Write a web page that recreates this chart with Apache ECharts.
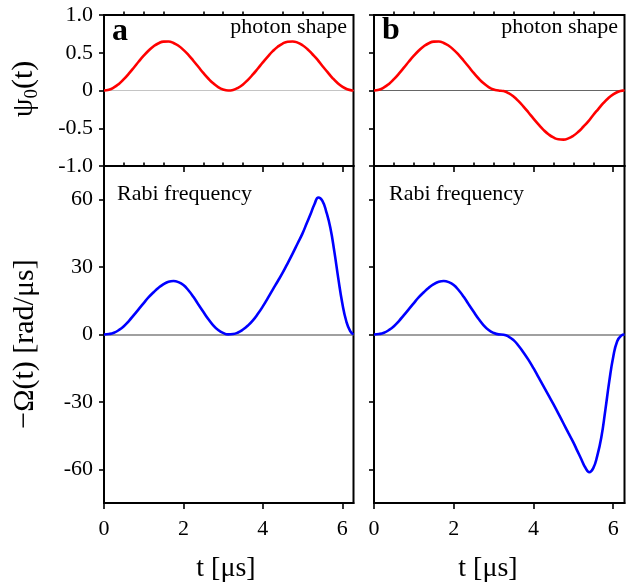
<!DOCTYPE html>
<html>
<head>
<meta charset="utf-8">
<script src="https://cdn.jsdelivr.net/npm/echarts@6/dist/echarts.min.js"></script>
<style>
html,body{margin:0;padding:0;background:#fff;}
#chart{width:635px;height:585px;}
</style>
</head>
<body>
<div id="chart"></div>
<script>
// ---- data ----
const tPsi = [0,0.125,0.25,0.375,0.5,0.625,0.75,0.875,1.0,1.125,1.25,1.375,1.5,1.625,1.75,1.875,2.0,2.125,2.25,2.375,2.5,2.625,2.75,2.875,3.0,3.125,3.25,3.375,3.5,3.625,3.75,3.875,4.0,4.125,4.25,4.375,4.5,4.625,4.75,4.875,5.0,5.125,5.25,5.375,5.5,5.625,5.75,5.875,6.0,6.125,6.25,6.283];
const psiA = [0,0.010,0.040,0.087,0.150,0.223,0.302,0.384,0.461,0.530,0.586,0.626,0.648,0.649,0.630,0.592,0.538,0.471,0.394,0.314,0.233,0.159,0.095,0.045,0.013,0,0.008,0.035,0.080,0.141,0.213,0.292,0.373,0.450,0.521,0.579,0.622,0.646,0.650,0.634,0.599,0.547,0.480,0.408,0.324,0.246,0.168,0.102,0.051,0.016,0.001,0];
const psiB = [0,0.010,0.040,0.087,0.150,0.223,0.302,0.384,0.461,0.530,0.586,0.626,0.648,0.649,0.630,0.592,0.538,0.471,0.394,0.314,0.233,0.159,0.095,0.045,0.013,0,-0.008,-0.035,-0.080,-0.141,-0.213,-0.292,-0.373,-0.450,-0.521,-0.579,-0.622,-0.646,-0.650,-0.634,-0.599,-0.547,-0.480,-0.408,-0.324,-0.246,-0.168,-0.102,-0.051,-0.016,-0.001,0];

const tRabi = [0,0.125,0.25,0.375,0.5,0.625,0.75,0.875,1.0,1.125,1.25,1.375,1.5,1.625,1.75,1.875,2.0,2.125,2.25,2.375,2.5,2.625,2.75,2.875,3.0,3.125,3.25,3.375,3.5,3.625,3.75,3.875,4.0,4.125,4.25,4.375,4.5,4.625,4.75,4.875,5.0,5.1,5.2,5.3,5.4,5.5,5.6,5.7,5.8,5.9,6.0,6.1,6.2,6.283];
const rabiA = [0,0.2,0.8,2.0,3.7,6.0,8.6,11.3,14.0,16.6,18.8,20.8,22.4,23.5,23.8,23.3,22.0,19.7,16.8,13.4,10.1,6.9,4.1,2.0,0.7,0.05,0.2,0.9,2.2,4.0,6.3,9.2,12.5,16.2,20.0,23.7,27.5,31.7,36.0,40.5,45.0,49.3,53.5,58.0,61.0,59.5,54.5,47.5,37,25,14,6,1.5,0];
const rabiB = [0,0.2,0.8,2.0,3.7,6.0,8.6,11.3,14.0,16.6,18.8,20.8,22.4,23.5,23.8,23.3,22.0,19.7,16.8,13.4,10.1,6.9,4.1,2.0,0.7,0.05,-0.1,-0.9,-2.5,-5.0,-8,-11.3,-15,-19,-23,-27,-31,-35.2,-39.5,-43.8,-48,-51.8,-55.5,-59.2,-61.3,-59.5,-54,-46,-34,-21,-10,-3,-0.5,0];

const xMajorTicks = [0,2,4,6];
const xMinorTicks = [0.5,1,1.5,2.5,3,3.5,4.5,5,5.5];
const yTicksTop = [-1,-0.5,0,0.5,1];
const yTicksBottom = [-60,-30,0,30,60];
const xMax = 6.2832;

// ---- chart ----
const FONT = 'Liberation Serif';
const chart = echarts.init(document.getElementById('chart'), null, {renderer:'canvas'});

const grids = [
  {left:104, top:15, width:249.5, height:151},
  {left:374, top:15, width:250.5, height:151},
  {left:104, top:166, width:249.5, height:337},
  {left:374, top:166, width:250.5, height:337}
].map(g => Object.assign({show:true, borderColor:'#000', borderWidth:2, backgroundColor:'transparent'}, g));

const xAxes = [];
for (let i = 0; i < 4; i++) {
  const bottom = i >= 2;
  xAxes.push({
    type:'value', gridIndex:i, min:0, max:xMax,
    axisLine:{show:true, onZero:false, lineStyle:{color:'#000', width:2}},
    axisTick:{show:true, inside:false, length:6, customValues:xMajorTicks, lineStyle:{color:'#000', width:1.6}},
    axisLabel:{show:bottom, customValues:xMajorTicks, fontFamily:FONT, fontSize:22, color:'#000', margin:15},
    splitLine:{show:false}
  });
}
for (let i = 0; i < 4; i++) {
  xAxes.push({
    type:'value', gridIndex:i, min:0, max:xMax,
    axisLine:{show:false, onZero:false},
    axisTick:{show:true, inside:false, length:3.5, customValues:xMinorTicks, lineStyle:{color:'#000', width:1.6}},
    axisLabel:{show:false},
    splitLine:{show:false}
  });
}

const yAxes = [];
for (let i = 0; i < 4; i++) {
  const top = i < 2;
  const left = (i % 2) === 0;
  const ticks = top ? yTicksTop : yTicksBottom;
  yAxes.push({
    type:'value', gridIndex:i,
    min: top ? -1 : -75, max: top ? 1 : 75,
    axisLine:{show:true, onZero:false, lineStyle:{color:'#000', width:2}},
    axisTick:{show:true, inside:false, length:5, customValues:ticks, lineStyle:{color:'#000', width:1.6}},
    axisLabel:{show:left, customValues:ticks, fontFamily:FONT, fontSize:22, color:'#000', margin:11,
      formatter: v => top ? (v === 0 ? '0' : v.toFixed(1)) : String(v)},
    splitLine:{show:false}
  });
}

function zeroLine(color, w) {
  return {silent:true, symbol:'none', z:1, label:{show:false}, lineStyle:{color:color, width:w, type:'solid'}, data:[{yAxis:0}], animation:false};
}
function mk(tArr, vArr, xi, yi, color, zc, zw) {
  return {
    type:'line', xAxisIndex:xi, yAxisIndex:yi, showSymbol:false, symbol:'none',
    smooth:true, animation:false, z:3,
    lineStyle:{color:color, width:2.6},
    data: tArr.map((t, k) => [t, vArr[k]]),
    markLine: zeroLine(zc, zw)
  };
}

const series = [
  mk(tPsi, psiA, 0, 0, '#ff0000', '#c4c4c4', 1),
  mk(tPsi, psiB, 1, 1, '#ff0000', '#666666', 1.2),
  mk(tRabi, rabiA, 2, 2, '#0000ff', '#808080', 1.5),
  mk(tRabi, rabiB, 3, 3, '#0000ff', '#808080', 1.5)
];

function txt(x, y, text, size, style) {
  return {type:'text', x:x, y:y, z:10, silent:true,
    style:Object.assign({text:text, fontFamily:FONT, fontSize:size, fill:'#000', align:'left', verticalAlign:'middle'}, style || {})};
}

// measure pieces of the rotated psi title so the subscript can sit below the baseline
const mctx = document.createElement('canvas').getContext('2d');
function tw(s, size) { mctx.font = size + 'px "' + FONT + '"'; return mctx.measureText(s).width; }
const wPsi = tw('ψ', 30), wSub = tw('0', 19), wRest = tw('(t)', 30);
const totalPsi = wPsi + wSub + wRest;
const x0 = -totalPsi / 2;

const omegaTitle = txt(0, 0, '−Ω(t) [rad/μs]', 30, {align:'center'});
omegaTitle.x = 25; omegaTitle.y = 344; omegaTitle.rotation = Math.PI / 2;

const graphic = [
  txt(112, 32, 'a', 32, {fontWeight:'bold'}),
  txt(382, 31, 'b', 32, {fontWeight:'bold'}),
  txt(347, 27, 'photon shape', 22, {align:'right'}),
  txt(618, 27, 'photon shape', 22, {align:'right'}),
  txt(117, 194, 'Rabi frequency', 22),
  txt(389, 194, 'Rabi frequency', 22),
  txt(226, 569, 't [μs]', 28, {align:'center'}),
  txt(488, 569, 't [μs]', 28, {align:'center'}),
  {type:'group', x:24, y:89, rotation:Math.PI/2, silent:true, children:[
    txt(x0, 0, 'ψ', 30),
    txt(x0 + wPsi, 8, '0', 19),
    txt(x0 + wPsi + wSub, 0, '(t)', 30)
  ]},
  omegaTitle
];

chart.setOption({
  animation:false,
  backgroundColor:'#ffffff',
  grid:grids,
  xAxis:xAxes,
  yAxis:yAxes,
  series:series,
  graphic:graphic
});
</script>
</body>
</html>
